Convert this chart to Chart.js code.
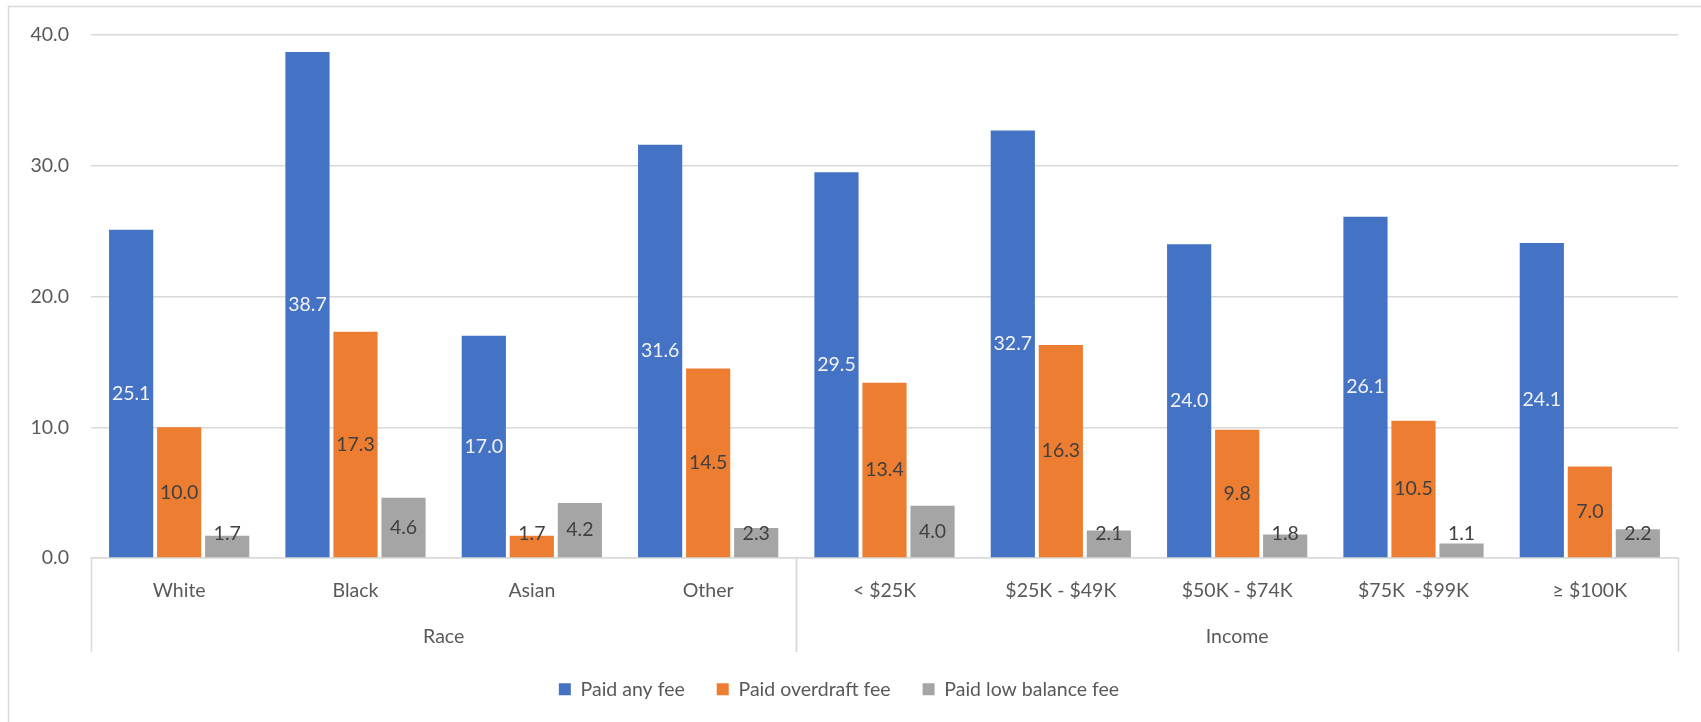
<!DOCTYPE html>
<html>
<head>
<meta charset="utf-8">
<script src="https://cdn.jsdelivr.net/npm/chart.js@4.4.1/dist/chart.umd.min.js"></script>
<style>
  html, body { margin: 0; padding: 0; background: #fff; }
  #wrap { width: 1701px; height: 722px; position: relative; }
</style>
</head>
<body>
<div id="wrap"><canvas id="feeChart"></canvas></div>
<script>
// Chart data
const categories = ['White', 'Black', 'Asian', 'Other', '< $25K', '$25K - $49K', '$50K - $74K', '$75K  -$99K', '\u2265 $100K'];
const groups = ['Race', 'Race', 'Race', 'Race', 'Income', 'Income', 'Income', 'Income', 'Income'];
const seriesNames = ['Paid any fee', 'Paid overdraft fee', 'Paid low balance fee'];
const paidAnyFee = [25.1, 38.7, 17.0, 31.6, 29.5, 32.7, 24.0, 26.1, 24.1];
const paidOverdraftFee = [10.0, 17.3, 1.7, 14.5, 13.4, 16.3, 9.8, 10.5, 7.0];
const paidLowBalanceFee = [1.7, 4.6, 4.2, 2.3, 4.0, 2.1, 1.8, 1.1, 2.2];
const yTicks = [0, 10, 20, 30, 40];

const FONT = "Lato, 'Open Sans', sans-serif";
const FS = 19.5;
const TEXT = '#595959';
const LINE = '#D9D9D9';
const colors = ['#4472C4', '#ED7D31', '#A5A5A5'];
const labelColors = ['#F2F2F2', '#404040', '#404040'];

// outer frame of the chart (only top and left edge are visible)
const framePlugin = {
    id: 'frame',
    beforeDraw(chart) {
        const ctx = chart.ctx;
        ctx.save();
        ctx.fillStyle = '#fff';
        ctx.fillRect(0, 0, chart.width, chart.height);
        ctx.strokeStyle = LINE;
        ctx.lineWidth = 1.5;
        ctx.strokeRect(8.5, 6.5, chart.width + 20, chart.height + 20);
        ctx.restore();
    }
};

// value labels centred in each bar
const valueLabels = {
    id: 'valueLabels',
    afterDatasetsDraw(chart) {
        const ctx = chart.ctx;
        ctx.save();
        ctx.font = FS + 'px ' + FONT;
        ctx.textAlign = 'center';
        ctx.textBaseline = 'middle';
        chart.data.datasets.forEach((ds, i) => {
            const meta = chart.getDatasetMeta(i);
            meta.data.forEach((bar, j) => {
                const mid = (bar.y + bar.base) / 2;
                const y = Math.min(mid, bar.base - 24);
                ctx.fillStyle = labelColors[i];
                ctx.fillText(ds.data[j].toFixed(1), bar.x, y);
            });
        });
        ctx.restore();
    }
};

// second level of the category axis (Race / Income) with separators
const groupAxis = {
    id: 'groupAxis',
    afterDraw(chart) {
        const ctx = chart.ctx;
        const x = chart.scales.x;
        const base = chart.chartArea.bottom;
        const step = (x.right - x.left) / categories.length;
        const lineBottom = 652;
        ctx.save();
        ctx.strokeStyle = LINE;
        ctx.lineWidth = 1.5;
        ctx.font = FS + 'px ' + FONT;
        ctx.fillStyle = TEXT;
        ctx.textAlign = 'center';
        ctx.textBaseline = 'middle';
        let start = 0;
        for (let i = 1; i <= groups.length; i++) {
            if (i === groups.length || groups[i] !== groups[start]) {
                const x0 = x.left + start * step;
                const x1 = x.left + i * step;
                ctx.beginPath();
                ctx.moveTo(Math.round(x0) + 0.5, base);
                ctx.lineTo(Math.round(x0) + 0.5, lineBottom);
                ctx.moveTo(Math.round(x1) + 0.5, base);
                ctx.lineTo(Math.round(x1) + 0.5, lineBottom);
                ctx.stroke();
                ctx.fillText(groups[start], (x0 + x1) / 2, 637);
                start = i;
            }
        }
        ctx.restore();
    }
};

const ctx = document.getElementById('feeChart').getContext('2d');
new Chart(ctx, {
    type: 'bar',
    data: {
        labels: categories,
        datasets: [
            { label: seriesNames[0], data: paidAnyFee, backgroundColor: colors[0] },
            { label: seriesNames[1], data: paidOverdraftFee, backgroundColor: colors[1] },
            { label: seriesNames[2], data: paidLowBalanceFee, backgroundColor: colors[2] }
        ]
    },
    options: {
        responsive: true,
        maintainAspectRatio: false,
        animation: false,
        devicePixelRatio: 1,
        categoryPercentage: 0.817,
        barPercentage: 0.92,
        layout: { padding: { top: 35, right: 23, left: 0, bottom: 13 } },
        scales: {
            x: {
                grid: { display: false, drawTicks: false },
                border: { display: true, color: LINE, width: 1.5 },
                ticks: { color: TEXT, font: { family: FONT, size: FS }, padding: 21, maxRotation: 0, autoSkip: false },
                afterFit(scale) { scale.height = 89.5; }
            },
            y: {
                min: 0,
                max: 40,
                afterBuildTicks(scale) { scale.ticks = yTicks.map(v => ({ value: v })); },
                grid: { color: LINE, lineWidth: 1.5, drawTicks: false },
                border: { display: false },
                ticks: {
                    color: TEXT,
                    font: { family: FONT, size: FS },
                    padding: 22,
                    callback: v => Number(v).toFixed(1)
                },
                afterFit(scale) { scale.width = 91; }
            }
        },
        plugins: {
            legend: {
                position: 'bottom',
                labels: {
                    color: TEXT,
                    font: { family: FONT, size: FS },
                    boxWidth: 12,
                    boxHeight: 12,
                    padding: 32
                }
            },
            tooltip: { enabled: false }
        }
    },
    plugins: [framePlugin, valueLabels, groupAxis]
});
</script>
</body>
</html>
